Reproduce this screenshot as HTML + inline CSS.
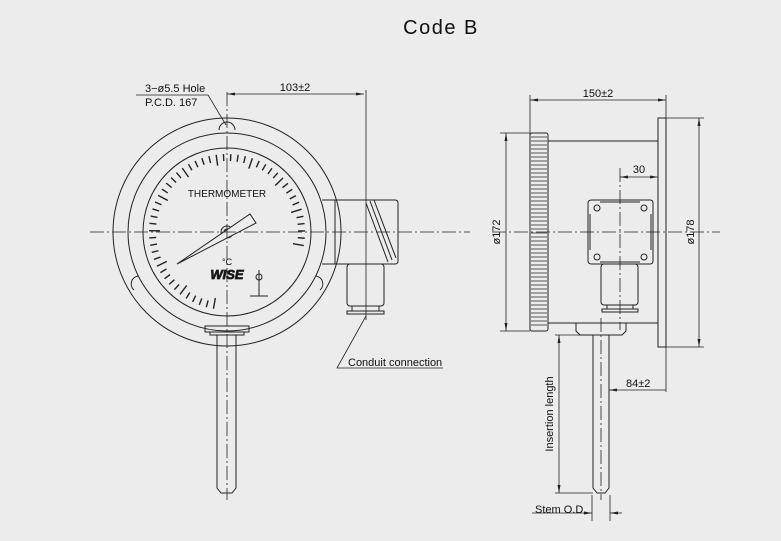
<!DOCTYPE html>
<html><head><meta charset="utf-8"><style>
html,body{margin:0;padding:0;background:#ececec;}
svg{display:block;}
text{font-family:"Liberation Sans",sans-serif;fill:#111;}
</style></head><body>
<svg width="781" height="541" viewBox="0 0 781 541" xmlns="http://www.w3.org/2000/svg">
<defs>
<marker id="a" markerWidth="8" markerHeight="6" refX="8" refY="3" orient="auto-start-reverse" markerUnits="userSpaceOnUse"><path d="M0,1.5 L8,3 L0,4.5z" fill="#222"/></marker>
<line id="t" x1="305" y1="232" x2="298" y2="232"/>
<line id="T" x1="305" y1="232" x2="294" y2="232"/>
</defs>
<rect width="781" height="541" fill="#ececec"/>
<text x="441" y="34" font-size="20" text-anchor="middle" letter-spacing="1.5" font-weight="300">Code B</text>
<g fill="none" stroke="#222" stroke-width="1">
<circle cx="227" cy="232" r="114"/>
<circle cx="227" cy="232" r="99"/>
<circle cx="227" cy="232" r="84"/>
<path d="M219,130 A8,8 0 0 1 235,130"/>
<path d="M134,290 A8,8 0 0 1 138,276"/>
<path d="M316,276 A8,8 0 0 1 320,290"/>
<circle cx="227" cy="232" r="6"/><circle cx="227" cy="232" r="3"/>
<path d="M177,264 L250,214 L256,223 Z" fill="#ececec"/>
<path d="M322,200 H395 Q398,200 398,203 V261 Q398,264 395,264 H322"/>
<line x1="335" y1="200" x2="335" y2="264"/>
<path d="M366,203 L388,262 M370,201 L392,260 M374,200 L396,258"/>
<rect x="347" y="264" width="37" height="42" rx="3"/>
<rect x="352" y="306" width="27" height="5"/>
<rect x="347" y="311" width="37" height="3"/>
<rect x="205" y="326" width="44" height="6"/>
<rect x="210" y="332" width="34" height="3"/>
<path d="M217,335 V488 L221,493 H232 L236,488 V335"/>
<rect x="530" y="133" width="18" height="198" rx="2"/>
<line x1="548" y1="141" x2="658" y2="141"/>
<line x1="548" y1="323" x2="658" y2="323"/>
<rect x="658" y="118" width="8" height="229"/>
<path d="M592,200 H650 Q653,200 653,203 V261 Q653,264 650,264 H592 Q588,264 588,261 V203 Q588,200 592,200Z"/>
<path d="M600,202 H640 M600,262 H640 M590,214 V250 M651,214 V250"/>
<circle cx="597" cy="208" r="3"/><circle cx="644" cy="208" r="3"/>
<circle cx="597" cy="257" r="3"/><circle cx="644" cy="257" r="3"/>
<rect x="601" y="264" width="37" height="41" rx="3"/>
<rect x="607" y="305" width="26" height="4"/>
<rect x="602" y="309" width="36" height="3"/>
<path d="M576,323 H626 V331 L622,335 H580 L576,331 Z"/>
<path d="M593,335 V488 L597,493 H605 L609,488 V335"/>
</g>
<g stroke="#222" stroke-width="0.8">
<path d="M531,137 H547 M531,141 H547 M531,145 H547 M531,149 H547 M531,153 H547 M531,157 H547 M531,161 H547 M531,165 H547 M531,169 H547 M531,173 H547 M531,177 H547 M531,181 H547 M531,185 H547 M531,189 H547 M531,193 H547 M531,197 H547 M531,201 H547 M531,205 H547 M531,209 H547 M531,213 H547 M531,217 H547 M531,221 H547 M531,225 H547 M531,229 H547 M531,233 H547 M531,237 H547 M531,241 H547 M531,245 H547 M531,249 H547 M531,253 H547 M531,257 H547 M531,261 H547 M531,265 H547 M531,269 H547 M531,273 H547 M531,277 H547 M531,281 H547 M531,285 H547 M531,289 H547 M531,293 H547 M531,297 H547 M531,301 H547 M531,305 H547 M531,309 H547 M531,313 H547 M531,317 H547 M531,321 H547 M531,325 H547"/>
</g>
<g stroke="#222" stroke-width="1.4">
<use href="#T" transform="rotate(100 227 232)"/><use href="#t" transform="rotate(105.4 227 232)"/><use href="#t" transform="rotate(110.8 227 232)"/><use href="#t" transform="rotate(116.2 227 232)"/><use href="#t" transform="rotate(121.6 227 232)"/>
<use href="#T" transform="rotate(127 227 232)"/><use href="#t" transform="rotate(132.4 227 232)"/><use href="#t" transform="rotate(137.8 227 232)"/><use href="#t" transform="rotate(143.2 227 232)"/><use href="#t" transform="rotate(148.6 227 232)"/>
<use href="#T" transform="rotate(154 227 232)"/><use href="#t" transform="rotate(159.4 227 232)"/><use href="#t" transform="rotate(164.8 227 232)"/><use href="#t" transform="rotate(170.2 227 232)"/><use href="#t" transform="rotate(175.6 227 232)"/>
<use href="#T" transform="rotate(181 227 232)"/><use href="#t" transform="rotate(186.4 227 232)"/><use href="#t" transform="rotate(191.8 227 232)"/><use href="#t" transform="rotate(197.2 227 232)"/><use href="#t" transform="rotate(202.6 227 232)"/>
<use href="#T" transform="rotate(208 227 232)"/><use href="#t" transform="rotate(213.4 227 232)"/><use href="#t" transform="rotate(218.8 227 232)"/><use href="#t" transform="rotate(224.2 227 232)"/><use href="#t" transform="rotate(229.6 227 232)"/>
<use href="#T" transform="rotate(235 227 232)"/><use href="#t" transform="rotate(240.4 227 232)"/><use href="#t" transform="rotate(245.8 227 232)"/><use href="#t" transform="rotate(251.2 227 232)"/><use href="#t" transform="rotate(256.6 227 232)"/>
<use href="#T" transform="rotate(262 227 232)"/><use href="#t" transform="rotate(267.4 227 232)"/><use href="#t" transform="rotate(272.8 227 232)"/><use href="#t" transform="rotate(278.2 227 232)"/><use href="#t" transform="rotate(283.6 227 232)"/>
<use href="#T" transform="rotate(289 227 232)"/><use href="#t" transform="rotate(294.4 227 232)"/><use href="#t" transform="rotate(299.8 227 232)"/><use href="#t" transform="rotate(305.2 227 232)"/><use href="#t" transform="rotate(310.6 227 232)"/>
<use href="#T" transform="rotate(316 227 232)"/><use href="#t" transform="rotate(321.4 227 232)"/><use href="#t" transform="rotate(326.8 227 232)"/><use href="#t" transform="rotate(332.2 227 232)"/><use href="#t" transform="rotate(337.6 227 232)"/>
<use href="#T" transform="rotate(343 227 232)"/><use href="#t" transform="rotate(348.4 227 232)"/><use href="#t" transform="rotate(353.8 227 232)"/><use href="#t" transform="rotate(359.2 227 232)"/><use href="#t" transform="rotate(364.6 227 232)"/>
<use href="#T" transform="rotate(370 227 232)"/>
</g>
<g fill="none" stroke="#222" stroke-width="0.8" stroke-dasharray="14,3,2,3">
<line x1="90" y1="232" x2="470" y2="232"/>
<line x1="227" y1="92" x2="227" y2="500"/>
<line x1="492" y1="232" x2="720" y2="232"/>
<line x1="620" y1="168" x2="620" y2="330"/>
<line x1="601" y1="318" x2="601" y2="500"/>
</g>
<g fill="none" stroke="#222" stroke-width="0.8">
<line x1="227" y1="94" x2="364" y2="94" marker-start="url(#a)" marker-end="url(#a)"/>
<line x1="366" y1="90" x2="366" y2="320"/>
<path d="M136,95 H208 L226,125"/>
<path d="M366,316 L337,368 H443"/>
<line x1="530" y1="95" x2="530" y2="135"/>
<line x1="666" y1="95" x2="666" y2="118"/>
<line x1="530" y1="100" x2="666" y2="100" marker-start="url(#a)" marker-end="url(#a)"/>
<line x1="620" y1="177" x2="658" y2="177" marker-start="url(#a)" marker-end="url(#a)"/>
<line x1="500" y1="133" x2="530" y2="133"/><line x1="500" y1="331" x2="530" y2="331"/>
<line x1="506" y1="133" x2="506" y2="331" marker-start="url(#a)" marker-end="url(#a)"/>
<line x1="666" y1="118" x2="704" y2="118"/><line x1="666" y1="347" x2="704" y2="347"/>
<line x1="699" y1="118" x2="699" y2="347" marker-start="url(#a)" marker-end="url(#a)"/>
<line x1="609" y1="390" x2="666" y2="390" marker-start="url(#a)"/>
<line x1="666" y1="347" x2="666" y2="392"/>
<line x1="555" y1="335" x2="593" y2="335"/><line x1="555" y1="493" x2="593" y2="493"/>
<line x1="559" y1="335" x2="559" y2="493" marker-start="url(#a)" marker-end="url(#a)"/>
<line x1="592" y1="495" x2="592" y2="521"/><line x1="610" y1="495" x2="610" y2="521"/>
<line x1="532" y1="513" x2="592" y2="513" marker-end="url(#a)"/>
<line x1="622" y1="513" x2="610" y2="513" marker-end="url(#a)"/>
</g>
<g font-size="11">
<text x="145" y="92">3−ø5.5  Hole</text>
<text x="145" y="106">P.C.D.  167</text>
<text x="295" y="91" text-anchor="middle">103±2</text>
<text x="227" y="197" font-size="10" text-anchor="middle">THERMOMETER</text>
<text x="222" y="265" font-size="9">°C</text>
<text x="227" y="279" font-size="13" font-weight="bold" text-anchor="middle" fill="#ececec" stroke="#222" stroke-width="0.8" font-style="italic">WISE</text>
<text x="348" y="366">Conduit  connection</text>
<text x="598" y="97" text-anchor="middle">150±2</text>
<text x="639" y="173" text-anchor="middle">30</text>
<text x="626" y="387">84±2</text>
<text x="535" y="513">Stem  O.D.</text>
<text transform="translate(500,232) rotate(-90)" text-anchor="middle">ø172</text>
<text transform="translate(694,232) rotate(-90)" text-anchor="middle">ø178</text>
<text transform="translate(553,414) rotate(-90)" text-anchor="middle">Insertion  length</text>
</g>
<g fill="none" stroke="#222" stroke-width="1">
<circle cx="259" cy="277" r="3"/><line x1="259" y1="270" x2="259" y2="296"/>
<path d="M250,296 H268"/>
</g>
</svg>
</body></html>
